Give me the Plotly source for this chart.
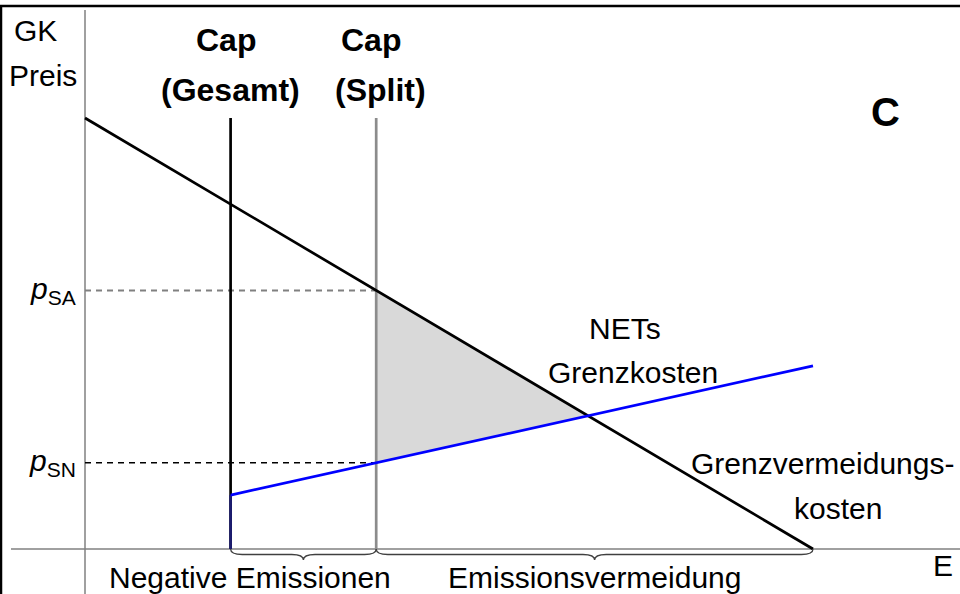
import plotly.graph_objects as go

# curves (economic units: E on x, price on y)
mac_x = [0, 50]            # Grenzvermeidungskosten
mac_y = [10, 0]
net_x = [10, 50]           # NETs Grenzkosten
net_y = [1.25, 4.25]
cap_total = 10             # Cap (Gesamt)
cap_split = 20             # Cap (Split)
p_sa = 6
p_sn = 2

# pixel scale of the sketch
PX_X, PX_Y = 14.56, 43.1
X0, Y0 = 85, 549
W, H = 960, 594


def dx(px):
    return (px - X0) / PX_X


def dy(py):
    return (Y0 - py) / PX_Y


def line_at(xs, ys, x):
    return ys[0] + (ys[1] - ys[0]) * (x - xs[0]) / (xs[1] - xs[0])


# intersection of the two curves
m1 = (mac_y[1] - mac_y[0]) / (mac_x[1] - mac_x[0])
m2 = (net_y[1] - net_y[0]) / (net_x[1] - net_x[0])
b1 = mac_y[0] - m1 * mac_x[0]
b2 = net_y[0] - m2 * net_x[0]
x_eq = (b2 - b1) / (m1 - m2)
y_eq = b1 + m1 * x_eq
top = mac_y[0]

FONT = 'Liberation Sans, Arial, sans-serif'

fig = go.Figure()

# shaded triangle
fig.add_trace(go.Scatter(
    x=[cap_split, x_eq, cap_split, cap_split],
    y=[line_at(mac_x, mac_y, cap_split), y_eq, line_at(net_x, net_y, cap_split), line_at(mac_x, mac_y, cap_split)],
    mode='lines', fill='toself', fillcolor='#d9d9d9', line=dict(width=0), hoverinfo='skip'))

# axes
fig.add_trace(go.Scatter(x=[dx(11), dx(W)], y=[0, 0], mode='lines', line=dict(color='#808080', width=1.5)))
fig.add_trace(go.Scatter(x=[0, 0], y=[dy(10), dy(H)], mode='lines', line=dict(color='#808080', width=1.5)))

# price guides
fig.add_trace(go.Scatter(x=[0, cap_split], y=[p_sa, p_sa], mode='lines',
                         line=dict(color='#808080', width=2, dash='6px,5px')))
fig.add_trace(go.Scatter(x=[0, cap_split], y=[p_sn, p_sn], mode='lines',
                         line=dict(color='#000000', width=1.5, dash='6px,5px')))

# caps
fig.add_trace(go.Scatter(x=[cap_split, cap_split], y=[0, top], mode='lines', line=dict(color='#8c8c8c', width=2.7)))
fig.add_trace(go.Scatter(x=[cap_total, cap_total], y=[0, top], mode='lines', line=dict(color='#000000', width=2.7)))
fig.add_trace(go.Scatter(x=[cap_total, cap_total], y=[0, net_y[0]], mode='lines', line=dict(color='#1c1c70', width=2.7)))

# curves
fig.add_trace(go.Scatter(x=mac_x, y=mac_y, mode='lines', line=dict(color='#000000', width=2.7)))
fig.add_trace(go.Scatter(x=net_x, y=net_y, mode='lines', line=dict(color='#0000ff', width=2.7)))


def brace(xa, xb, depth):
    xm = (xa + xb) / 2
    h = depth / 2
    q = 0.8
    return (f'M {xa},0 Q {xa},{-h} {xa + q},{-h} L {xm - q},{-h} '
            f'Q {xm},{-h} {xm},{-depth} Q {xm},{-h} {xm + q},{-h} '
            f'L {xb - q},{-h} Q {xb},{-h} {xb},0')


depth = 11 / PX_Y
shapes = [
    dict(type='path', xref='x', yref='y', path=brace(cap_total, cap_split, depth), line=dict(color='#404040', width=1.3)),
    dict(type='path', xref='x', yref='y', path=brace(cap_split, mac_x[1], depth), line=dict(color='#404040', width=1.3)),
    # frame
    dict(type='line', xref='paper', yref='paper', x0=0, x1=1, y0=1 - 6 / H, y1=1 - 6 / H, line=dict(color='#000000', width=2.5)),
    dict(type='line', xref='paper', yref='paper', x0=1 / W, x1=1 / W, y0=0, y1=1 - 6 / H, line=dict(color='#000000', width=2.5)),
]

labels = [
    ('GK', 35, 30, 30),
    ('Preis', 43, 75, 30),
    ('<b>Cap</b>', 226, 40, 32),
    ('<b>(Gesamt)</b>', 230, 90, 32),
    ('<b>Cap</b>', 371, 40, 32),
    ('<b>(Split)</b>', 380, 90, 32),
    ('<b>C</b>', 885, 112, 40),
    ('NETs', 625, 328, 30),
    ('Grenzkosten', 633, 372, 30),
    ('Grenzvermeidungs-', 822, 463, 30),
    ('kosten', 838, 508, 30),
    ('Negative Emissionen', 250, 577, 30),
    ('Emissionsvermeidung', 594, 577, 30),
    ('E', 943, 565, 30),
]
annotations = [
    dict(text=t, x=dx(px), y=dy(py), xref='x', yref='y', showarrow=False,
         xanchor='center', yanchor='middle', font=dict(size=s, color='#000000', family=FONT))
    for t, px, py, s in labels
]
for txt, val in [('<i>p</i><sub>SA</sub>', p_sa), ('<i>p</i><sub>SN</sub>', p_sn)]:
    annotations.append(dict(text=txt, x=dx(78), y=val, xref='x', yref='y', showarrow=False,
                            xanchor='right', yanchor='middle', font=dict(size=30, color='#000000', family=FONT)))

fig.update_layout(
    width=W, height=H, margin=dict(l=0, r=0, t=0, b=0),
    paper_bgcolor='white', plot_bgcolor='white', showlegend=False,
    xaxis=dict(visible=False, range=[dx(0), dx(W)], fixedrange=True),
    yaxis=dict(visible=False, range=[dy(H), dy(0)], fixedrange=True),
    shapes=shapes, annotations=annotations,
)

# drop the default page margin so the figure sits at the window's corner
fig.write_html('out.html', config={'displayModeBar': False},
               post_script="document.body.style.margin='0';document.body.style.overflow='hidden';")
